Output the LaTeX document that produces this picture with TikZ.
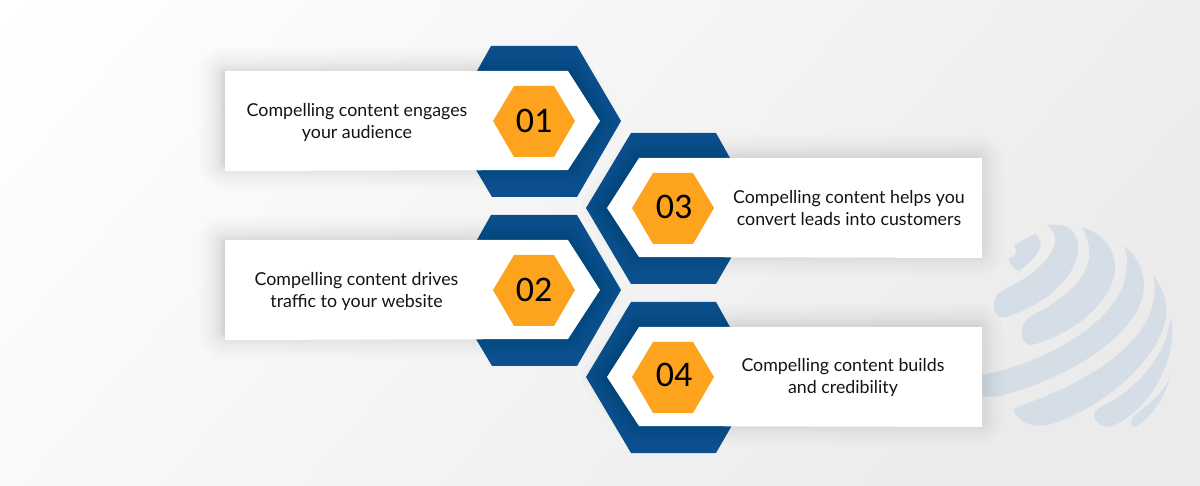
\documentclass[tikz,border=0pt]{standalone}
\usepackage{fontspec}
\setmainfont{Carlito}
\newfontfamily\lato{Lato}
\definecolor{hexblue}{HTML}{0B4F8E}
\definecolor{hexorange}{HTML}{FDA31E}
\definecolor{globe}{HTML}{D5DDE6}
\tikzset{
  bluehex/.style={fill=hexblue,draw=none},
  orangehex/.style={fill=hexorange,draw=none},
  cardface/.style={fill=white,draw=none},
  globeband/.style={fill=globe,draw=none},
  cardtext/.style={font=\lato\fontsize{17.8}{22}\selectfont,align=center,text=black!92,inner sep=0pt},
  numtext/.style={font=\fontsize{36}{38}\selectfont,text=black,inner sep=0pt,anchor=center},
}
\newcommand{\softshadow}[1]{%
  \foreach \w in {52,44,36,30,24,20,16,12,10,8,6,4,2}{
    \begin{scope}[transparency group,opacity=0.0115]
      \draw[black,line width=\w pt,line join=round,fill=black] #1;
    \end{scope}
  }%
}
\newcommand{\leftblock}[7]{% dy, num, name, text, text x, num y, text y
  \begin{scope}[shift={(0,#1)}]
    \fill[bluehex] (477,71)--(491,46)--(577,46)--(621,121)--(577,197)--(492,197)--(476,170)--cycle;
    \softshadow{(225,74)--(566,74)--(595,121)--(566,162)--(225,163)--cycle}
    \fill[cardface] (225,71)--(568,71)--(600,121)--(568,170)--(225,171)--cycle;
    \fill[orangehex] (493,121)--(514,86)--(554,86)--(575,121)--(554,157)--(514,157)--cycle;
    \node[numtext] (#3n) at (534,#6) {#2};
    \node[cardtext] (#3t) at (#5,#7) {#4};
  \end{scope}
}
\newcommand{\rightblock}[7]{%
  \begin{scope}[shift={(0,#1)}]
    \fill[bluehex] (586,208)--(631,133)--(716,133)--(730,158)--(731,258)--(716,284)--(631,284)--cycle;
    \softshadow{(641,161)--(977,161)--(977,250)--(641,250)--(608,208)--cycle}
    \fill[cardface] (639,158)--(982,158)--(982,258)--(639,257)--(607,208)--cycle;
    \fill[orangehex] (632,208)--(653,173)--(693,173)--(714,208)--(693,244)--(653,244)--cycle;
    \node[numtext] (#3n) at (674,#6) {#2};
    \node[cardtext] (#3t) at (#5,#7) {#4};
  \end{scope}
}
\begin{document}
\begin{tikzpicture}[x=1pt,y=-1pt]
\useasboundingbox (0,0) rectangle (1200,486);
\clip (0,0) rectangle (1200,486);
\fill[black!7.8] (0,0) rectangle (1200,486);
\foreach \i in {40,39,...,1}{
  \pgfmathsetmacro{\dd}{\i*26.25}
  \pgfmathsetmacro{\pp}{(\i-1)*0.2}
  \fill[black!\pp,rotate=-41.3] (-2000,-3000) rectangle (\dd,3000);
}
\begin{scope}[shift={(960,210)},x=0.3333pt,y=-0.3333pt]
  \fill[globeband] (225,72) .. controls (240,85) and (248,100) .. (238,118) .. controls (225,145) and (200,165) .. (178,183) .. controls (160,178) and (150,160) .. (145,145) -- (160,140) .. controls (170,132) and (170,118) .. (162,105) -- cycle;
  \fill[globeband] (262,45) -- (300,45) .. controls (340,48) and (358,85) .. (354,125) .. controls (340,220) and (230,295) .. (135,322) .. controls (105,325) and (95,290) .. (105,265) .. controls (115,245) and (130,240) .. (150,230) .. controls (220,195) and (280,140) .. (285,95) .. controls (287,75) and (277,58) .. (262,45) -- cycle;
  \fill[globeband] (365,52) .. controls (430,70) and (470,120) .. (465,185) .. controls (450,290) and (320,380) .. (215,405) .. controls (185,405) and (175,365) .. (195,335) .. controls (205,320) and (225,312) .. (250,298) .. controls (330,250) and (390,195) .. (388,125) .. controls (387,100) and (380,72) .. (365,52) -- cycle;
  \fill[globeband] (492,108) .. controls (535,140) and (555,190) .. (551,240) .. controls (535,380) and (320,500) .. (150,550) .. controls (120,560) and (85,565) .. (40,555) -- (40,500) -- (66,495) .. controls (250,460) and (470,340) .. (497,200) .. controls (502,165) and (503,135) .. (492,108) -- cycle;
  \fill[globeband] (580,198) .. controls (610,235) and (622,275) .. (618,320) .. controls (600,450) and (420,600) .. (270,643) .. controls (220,655) and (175,640) .. (161,600) .. controls (170,590) and (190,585) .. (215,575) .. controls (370,520) and (550,410) .. (578,285) .. controls (585,250) and (588,225) .. (580,198) -- cycle;
  \fill[globeband] (633,320) .. controls (642,385) and (632,440) .. (605,495) .. controls (575,560) and (520,625) .. (450,650) .. controls (415,652) and (395,625) .. (405,605) .. controls (415,592) and (440,582) .. (470,565) .. controls (550,510) and (620,430) .. (633,320) -- cycle;
  \fill[globeband] (632,495) .. controls (615,560) and (575,625) .. (525,650) .. controls (512,648) and (510,635) .. (520,622) .. controls (545,595) and (605,565) .. (632,495) -- cycle;
\end{scope}
\leftblock{0}{01}{a}{Compelling content engages\\your audience}{357}{121}{122}
\rightblock{0}{03}{c}{Compelling content helps you\\convert leads into customers}{849}{207}{208}
\leftblock{169}{02}{b}{Compelling content drives\\traffic to your website}{356.5}{121}{122}
\rightblock{169}{04}{d}{Compelling content builds\\and credibility}{843}{205.5}{208.5}
\end{tikzpicture}
\end{document}
